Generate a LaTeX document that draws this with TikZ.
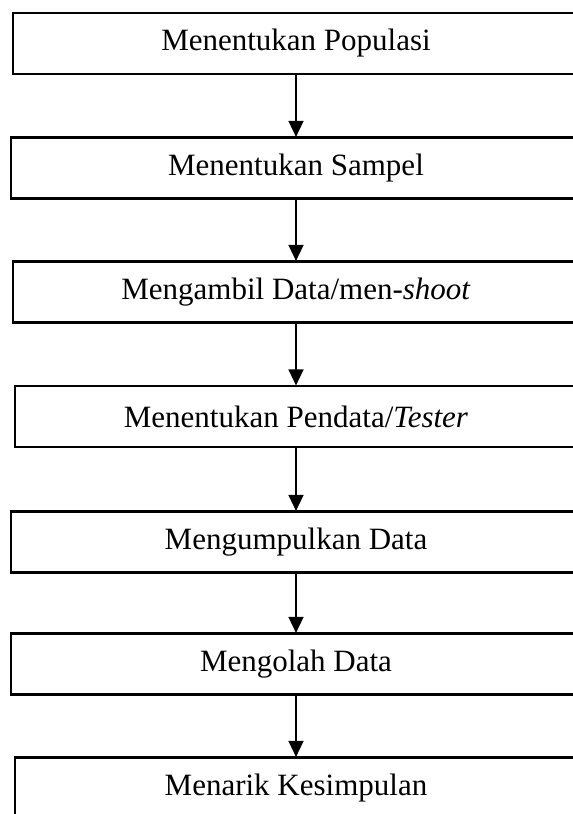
\documentclass[tikz,border=0pt]{standalone}
\usepackage{fontspec}
\setmainfont{Liberation Serif}
\usetikzlibrary{arrows.meta}
\begin{document}
\begin{tikzpicture}[x=1pt,y=-1pt,
  stepbox/.style={draw=black, line width=2.2pt, rectangle, minimum height=61pt,
    inner sep=0pt, font=\fontsize{31}{37}\selectfont, anchor=center},
  flow/.style={draw=black, line width=1.6pt, -{Triangle[width=15pt,length=16pt]}, shorten >=-0.5pt}
]
\useasboundingbox (0,0) rectangle (573,814);
\clip (0,0) rectangle (573,814);
% flow steps, each box runs past the right margin
\node[stepbox, minimum width=566pt] (b1) at (296,43.5) {Menentukan Populasi};
\node[stepbox, minimum width=570pt] (b2) at (296,168) {Menentukan Sampel};
\node[stepbox, minimum width=566pt] (b3) at (296,292) {Mengambil Data/men-\textit{shoot}};
\node[stepbox, minimum width=562pt] (b4) at (296,416.5) {Menentukan Pendata/\textit{Tester}};
\node[stepbox, minimum width=570pt] (b5) at (296,542) {Mengumpulkan Data};
\node[stepbox, minimum width=570pt] (b6) at (296,664) {Mengolah Data};
\node[stepbox, minimum width=562pt] (b7) at (296,788) {Menarik Kesimpulan};
% connectors
\draw[flow] (b1.south) -- (b2.north);
\draw[flow] (b2.south) -- (b3.north);
\draw[flow] (b3.south) -- (b4.north);
\draw[flow] (b4.south) -- (b5.north);
\draw[flow] (b5.south) -- (b6.north);
\draw[flow] (b6.south) -- (b7.north);
\end{tikzpicture}
\end{document}
